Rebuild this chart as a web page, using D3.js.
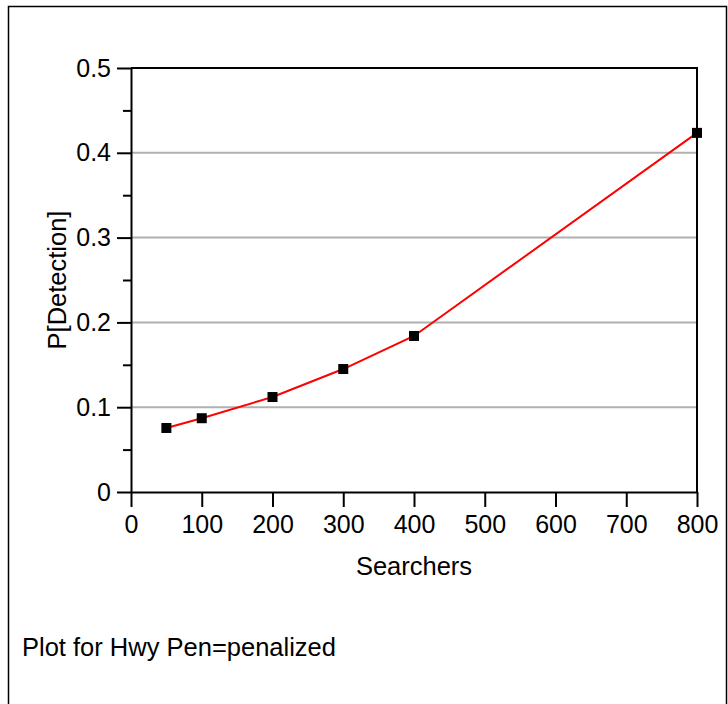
<!DOCTYPE html>
<html>
<head>
<meta charset="utf-8">
<script src="https://cdn.jsdelivr.net/npm/d3@7"></script>
<style>
  body { margin: 0; background: #fff; }
  text { font-family: "Liberation Sans", Arial, sans-serif; fill: #000; }
</style>
</head>
<body>
<div id="chart"></div>
<script>
const searchers = [50, 100, 200, 300, 400, 800];
const detection = [0.0755, 0.087, 0.112, 0.145, 0.184, 0.4235];
const xTicks = [0, 100, 200, 300, 400, 500, 600, 700, 800];
const yTicks = [0, 0.1, 0.2, 0.3, 0.4, 0.5];
const yMinorTicks = [0.05, 0.15, 0.25, 0.35, 0.45];

const width = 728, height = 704;
const margin = { left: 131, right: 31, top: 68, bottom: 212 };

const svg = d3.select("#chart").append("svg")
    .attr("width", width)
    .attr("height", height);

// outer frame
svg.append("rect")
    .attr("x", 8.5).attr("y", 6.5)
    .attr("width", 718).attr("height", 700)
    .attr("fill", "none")
    .attr("stroke", "#000")
    .attr("stroke-width", 1.5);

const x = d3.scaleLinear().domain([0, 800]).range([margin.left, width - margin.right]);
const y = d3.scaleLinear().domain([0, 0.5]).range([height - margin.bottom, margin.top]);

// grid lines
svg.append("g").selectAll("line")
    .data(yTicks.filter(d => d > 0 && d < 0.5))
    .join("line")
    .attr("x1", x(0)).attr("x2", x(800))
    .attr("y1", d => y(d)).attr("y2", d => y(d))
    .attr("stroke", "#b0b0b0")
    .attr("stroke-width", 2);

// top and right border
svg.append("path")
    .attr("d", `M${x(0)},${y(0.5)}H${x(800)}V${y(0)}`)
    .attr("fill", "none")
    .attr("stroke", "#000")
    .attr("stroke-width", 2);

svg.append("g")
    .attr("transform", `translate(0,${y(0)})`)
    .call(d3.axisBottom(x).tickValues(xTicks).tickFormat(d3.format("d")).tickSize(15).tickSizeOuter(0).tickPadding(8));

svg.append("g")
    .attr("transform", `translate(${x(0)},0)`)
    .call(d3.axisLeft(y).tickValues(yTicks).tickFormat(d => d === 0 ? "0" : d3.format(".1f")(d)).tickSize(14).tickSizeOuter(0).tickPadding(6));

svg.append("g")
    .attr("transform", `translate(${x(0)},0)`)
    .call(d3.axisLeft(y).tickValues(yMinorTicks).tickFormat("").tickSize(8).tickSizeOuter(0))
    .call(g => g.select(".domain").remove());

svg.selectAll(".domain, .tick line")
    .attr("stroke", "#000")
    .attr("stroke-width", 2);

svg.selectAll(".tick text")
    .style("font-size", "25px");

// axis titles
svg.append("text")
    .attr("x", (x(0) + x(800)) / 2)
    .attr("y", 575)
    .attr("text-anchor", "middle")
    .style("font-size", "25.5px")
    .text("Searchers");

svg.append("text")
    .attr("transform", `translate(66,${(y(0) + y(0.5)) / 2}) rotate(-90)`)
    .attr("text-anchor", "middle")
    .style("font-size", "25.5px")
    .text("P[Detection]");

svg.append("text")
    .attr("x", 22)
    .attr("y", 656)
    .style("font-size", "25.5px")
    .text("Plot for Hwy Pen=penalized");

// data line
const pts = searchers.map((s, i) => [s, detection[i]]);
svg.append("path")
    .datum(pts)
    .attr("fill", "none")
    .attr("stroke", "#ff0000")
    .attr("stroke-width", 2)
    .attr("d", d3.line().x(d => x(d[0])).y(d => y(d[1])));

svg.append("g").selectAll("rect")
    .data(pts)
    .join("rect")
    .attr("x", d => x(d[0]) - 5)
    .attr("y", d => y(d[1]) - 5)
    .attr("width", 10)
    .attr("height", 10)
    .attr("fill", "#000");
</script>
</body>
</html>
